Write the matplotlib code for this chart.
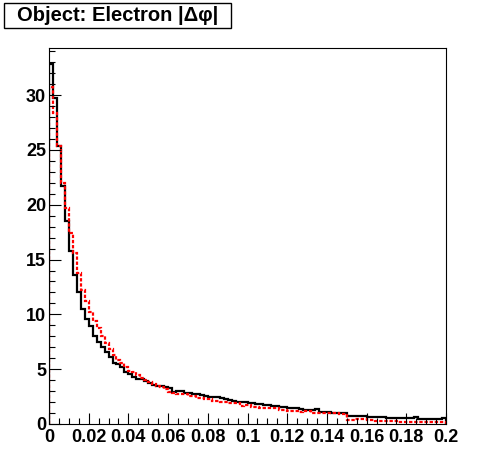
import numpy as np
import matplotlib
matplotlib.use("Agg")
import matplotlib.pyplot as plt
from matplotlib.ticker import MultipleLocator, FuncFormatter
from matplotlib.patches import Rectangle

plt.rcParams["font.family"] = ["Liberation Sans", "DejaVu Sans"]
plt.rcParams["lines.scale_dashes"] = False

# ── Data (|dphi| histograms, 100 bins on [0, 0.2]) ────────────────────────────
X_MIN, X_MAX, N_BINS = 0.0, 0.2, 100

black_vals = [
    32.8, 29.7, 25.4, 21.7, 18.5, 15.8, 13.6, 12.0, 10.5, 9.6,
    8.9, 8.0, 7.5, 7.0, 6.6, 6.1, 5.6, 5.5, 5.2, 4.7,
    4.6, 4.3, 4.1, 4.1, 3.9, 3.7, 3.6, 3.5, 3.46, 3.4,
    3.25, 2.95, 3.04, 3.04, 2.8, 2.8, 2.7, 2.7, 2.65, 2.58,
    2.5, 2.43, 2.43, 2.35, 2.25, 2.2, 2.13, 2.05, 2.03, 2.0,
    1.94, 1.9, 1.82, 1.82, 1.76, 1.72, 1.67, 1.6, 1.58, 1.55,
    1.5, 1.43, 1.43, 1.38, 1.3, 1.28, 1.28, 1.34, 1.12, 1.12,
    1.12, 0.97, 0.97, 0.97, 0.97, 0.76, 0.76, 0.76, 0.76, 0.76,
    0.67, 0.67, 0.67, 0.67, 0.67, 0.58, 0.58, 0.58, 0.58, 0.58,
    0.52, 0.52, 0.6, 0.46, 0.46, 0.46, 0.46, 0.46, 0.46, 0.56,
]
red_vals = [
    30.7, 28.4, 25.4, 22.0, 19.7, 17.4, 15.6, 13.8, 12.2, 11.2,
    10.2, 9.4, 8.8, 8.0, 7.4, 6.8, 6.3, 5.8, 5.6, 5.2,
    4.8, 4.75, 4.5, 4.2, 4.0, 3.8, 3.65, 3.5, 3.35, 3.15,
    2.95, 2.8, 2.7, 2.7, 2.7, 2.58, 2.58, 2.34, 2.34, 2.25,
    2.25, 2.13, 2.13, 2.03, 2.03, 1.88, 1.88, 1.88, 1.64, 1.73,
    1.73, 1.58, 1.58, 1.49, 1.49, 1.49, 1.43, 1.43, 1.28, 1.28,
    1.22, 1.22, 1.22, 1.13, 1.22, 1.22, 1.03, 1.03, 0.97, 0.97,
    0.97, 0.97, 0.97, 0.91, 0.91, 0.36, 0.36, 0.43, 0.43, 0.43,
    0.36, 0.36, 0.3, 0.3, 0.3, 0.3, 0.3, 0.3, 0.21, 0.21,
    0.18, 0.18, 0.18, 0.18, 0.18, 0.18, 0.18, 0.18, 0.18, 0.18,
]
title_text = "Object: Electron |\u0394\u03c6|"

# ── Plot ──────────────────────────────────────────────────────────────────────
edges = np.linspace(X_MIN, X_MAX, N_BINS + 1)
fig = plt.figure(figsize=(4.96, 4.72), dpi=100)
ax = fig.add_axes([0.0988, 0.1017, 0.8004, 0.7966])

ax.stairs(black_vals, edges, color="black", lw=1.6, baseline=0)
ax.stairs(red_vals, edges, color="#ff0000", lw=1.6, baseline=0,
          linestyle=(0, (2.4, 1.3)))

ax.set_xlim(X_MIN, X_MAX)
ax.set_ylim(0, 34.3)
for s in ax.spines.values():
    s.set_linewidth(0.8)

ax.xaxis.set_major_locator(MultipleLocator(0.02))
ax.xaxis.set_minor_locator(MultipleLocator(0.005))
ax.yaxis.set_major_locator(MultipleLocator(5))
ax.yaxis.set_minor_locator(MultipleLocator(1))
ax.xaxis.set_major_formatter(FuncFormatter(lambda v, p: f"{v:.2f}".rstrip("0").rstrip(".")))
ax.tick_params(which="both", direction="in", width=0.8, labelsize=13)
ax.tick_params(axis="x", which="major", length=8, pad=3.5)
ax.tick_params(axis="x", which="minor", length=4)
ax.tick_params(axis="y", which="major", length=8.6, pad=2)
ax.tick_params(axis="y", which="minor", length=4.3)
for lab in ax.get_xticklabels() + ax.get_yticklabels():
    lab.set_fontweight("bold")

# title box (ROOT-style)
fig.patches.append(Rectangle((4 / 496, 1 - 27.5 / 472), 227 / 496, 24.5 / 472,
                             transform=fig.transFigure, facecolor="white",
                             edgecolor="black", lw=1.0))
fig.text(118 / 496, 1 - 15.5 / 472, title_text, ha="center", va="center",
         fontsize=14.5, fontweight="bold")

fig.savefig("out.png", dpi=100, facecolor="white")
